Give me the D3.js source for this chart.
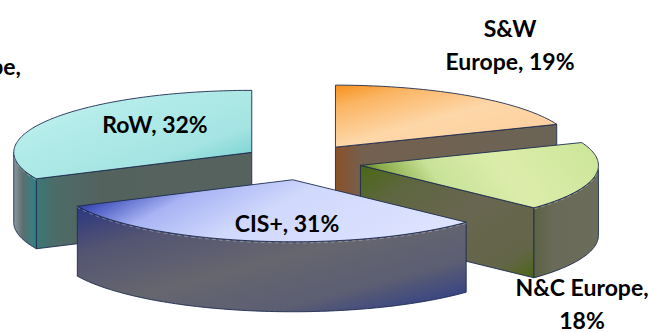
<!DOCTYPE html>
<html>
<head>
<meta charset="utf-8">
<script src="https://cdn.jsdelivr.net/npm/d3@7"></script>
<style>
  html, body { margin: 0; padding: 0; background: #fff; overflow: hidden; }
  svg text { font-family: Lato, "Open Sans", sans-serif; font-weight: 700; fill: #000; }
</style>
</head>
<body>
<svg id="chart" width="649" height="332"></svg>
<script>
// Market share by region (%), clockwise from 12 o'clock
const categories = ["S&W Europe", "N&C Europe", "CIS+", "RoW"];
const shares = [19, 18, 31, 32];
// number of words kept on the first label line (0 = single line)
const firstLineWords = [1, 2, 0, 0];

// ---- layout -------------------------------------------------------------
const W = 649, H = 332;
const cx = 302, cy = 162;      // pie centre (top face)
const rx = 238, ry = 62;       // ellipse radii of the tilted disc
const depth = 70;              // slab thickness
const explode = 0.25, explodeY = 0.29;

// label anchors: centre x, first baseline y
const labelAnchor = {
  "S&W Europe": [510, 37],
  "N&C Europe": [582, 296],
  "CIS+": [287, 232],
  "RoW": [155, 133]
};
const lineGap = 33;

// face styling per slice
const faceStyle = {
  "S&W Europe": {
    top:   { dir: [0, 0, 1, 1], stops: [[0, "#f6901a"], [0.18, "#fbb462"], [0.5, "#fdd7a8"], [0.85, "#fdd0a0"], [1, "#f9b676"]] },
    wall:  { dir: [0, 0, 1, 0], stops: [[0, "#8a5228"], [0.12, "#74604f"], [1, "#6a6456"]] },
    outer: { dir: [0, 0, 1, 0], stops: [[0, "#6a6456"], [1, "#6a6456"]] }
  },
  "N&C Europe": {
    top:   { dir: [0, 0.5, 1, 0.3], stops: [[0, "#4a6814"], [0.1, "#8aab48"], [0.3, "#c8e298"], [0.6, "#dcedab"], [1, "#cde69a"]] },
    wall:  { dir: [0, 0, 1, 1], stops: [[0, "#4a6814"], [0.22, "#5e6640"], [0.5, "#686650"], [0.85, "#636548"], [1, "#4d6614"]] },
    outer: { dir: [0, 0, 1, 0], stops: [[0, "#5c6244"], [0.3, "#6a6a58"], [1, "#6c6c5c"]] }
  },
  "CIS+": {
    top:   { dir: [0, 0.3, 1, 0.6], stops: [[0, "#1c2a78"], [0.08, "#4858c0"], [0.25, "#a8b4f4"], [0.5, "#d0d8fc"], [1, "#dde3ff"]] },
    wall:  { dir: [0, 0, 1, 0], stops: [[0, "#4a4c7a"], [1, "#4a4c7a"]] },
    outer: { dir: [0, 0, 1, 1], stops: [[0, "#2a3680"], [0.22, "#535472"], [0.5, "#66666f"], [0.75, "#5c5e72"], [1, "#26388c"]] }
  },
  "RoW": {
    top:   { dir: [0, 0, 1, 1], stops: [[0, "#d6f6f6"], [0.3, "#b4ecea"], [0.7, "#a4e4e2"], [1, "#60c8c8"]] },
    wall:  { dir: [0, 0, 1, 0], stops: [[0, "#3a7878"], [0.08, "#4c6c68"], [0.3, "#54625e"], [1, "#56625e"]] },
    outer: { dir: [0, 0, 1, 0], stops: [[0, "#8a9aa0"], [0.4, "#5c6e70"], [0.85, "#3a7f80"], [1, "#347a7c"]] }
  }
};

const svg = d3.select("#chart");
const defs = svg.append("defs");

function gradient(id, spec) {
  const g = defs.append("linearGradient").attr("id", id)
    .attr("x1", spec.dir[0]).attr("y1", spec.dir[1])
    .attr("x2", spec.dir[2]).attr("y2", spec.dir[3]);
  spec.stops.forEach(([o, c]) => g.append("stop").attr("offset", o).attr("stop-color", c));
  return `url(#${id})`;
}

const data = categories.map((c, i) => ({ name: c, value: shares[i] }));
const arcs = d3.pie().sort(null).value(d => d.value)(data);

const line = d3.line();
const closed = d3.line().curve(d3.curveLinearClosed);
const STROKE = "#1d2b4f";

function geom(a) {
  const m = (a.startAngle + a.endAngle) / 2;
  const ax = cx + explode * rx * Math.sin(m);
  const ay = cy - explodeY * ry * Math.cos(m);
  const rim = (t, dz = 0) => [ax + rx * Math.sin(t), ay - ry * Math.cos(t) + dz];
  return { m, ax, ay, rim };
}

function sweep(t0, t1, g, dz = 0) {
  const n = Math.max(2, Math.ceil(Math.abs(t1 - t0) / 0.02));
  return d3.range(n + 1).map(i => g.rim(t0 + (t1 - t0) * i / n, dz));
}

// painter's order: slices whose middle faces further back are drawn first
const order = arcs.slice().sort((a, b) =>
  (-Math.cos((a.startAngle + a.endAngle) / 2)) - (-Math.cos((b.startAngle + b.endAngle) / 2)));

order.forEach((a, k) => {
  const g = geom(a);
  const st = faceStyle[a.data.name];
  const grp = svg.append("g").attr("class", "slice");
  const s = a.startAngle, e = a.endAngle;
  const apex = [g.ax, g.ay], apexB = [g.ax, g.ay + depth];

  // radial cut faces
  if (Math.sin(s) < -1e-6) {
    grp.append("path")
      .attr("d", closed([apex, g.rim(s), g.rim(s, depth), apexB]))
      .attr("fill", gradient(`w0-${k}`, st.wall))
      .attr("stroke", STROKE).attr("stroke-width", 0.9).attr("stroke-linejoin", "round");
  }
  if (Math.sin(e) > 1e-6) {
    grp.append("path")
      .attr("d", closed([apex, g.rim(e), g.rim(e, depth), apexB]))
      .attr("fill", gradient(`w1-${k}`, st.wall))
      .attr("stroke", STROKE).attr("stroke-width", 0.9).attr("stroke-linejoin", "round");
  }

  // curved outer face (front half only)
  const lo = Math.max(s, Math.PI / 2), hi = Math.min(e, 3 * Math.PI / 2);
  if (lo < hi) {
    const pts = sweep(lo, hi, g).concat(sweep(hi, lo, g, depth));
    grp.append("path")
      .attr("d", closed(pts))
      .attr("fill", gradient(`o-${k}`, st.outer))
      .attr("stroke", STROKE).attr("stroke-width", 0.9).attr("stroke-linejoin", "round");
  }

  // top face
  grp.append("path")
    .attr("d", closed([apex].concat(sweep(s, e, g))))
    .attr("fill", gradient(`t-${k}`, st.top))
    .attr("stroke", STROKE).attr("stroke-width", 0.9).attr("stroke-linejoin", "round");

  // soft highlight just under the front rim of the top face
  if (lo < hi) {
    grp.append("path")
      .attr("d", line(sweep(lo, hi, g, 1.2)))
      .attr("fill", "none").attr("stroke", "#ffffff").attr("stroke-opacity", 0.3)
      .attr("stroke-width", 1).attr("stroke-dasharray", "4 3");
  }
});

// data labels
arcs.forEach((a, i) => {
  const name = a.data.name;
  const words = `${name}, ${a.data.value}%`.split(" ");
  const n = firstLineWords[i];
  const lines = n > 0 ? [words.slice(0, n).join(" "), words.slice(n).join(" ")] : [words.join(" ")];
  const [lx, ly] = labelAnchor[name];
  const t = svg.append("text").attr("text-anchor", "middle").attr("font-size", 23);
  lines.forEach((l, j) => t.append("tspan").attr("x", lx).attr("y", ly + j * lineGap).text(l));
});

// label of a region slice that lies beyond the left edge of the view
svg.append("text").attr("text-anchor", "end").attr("font-size", 23)
  .attr("x", 21).attr("y", 75).text("Europe,");
</script>
</body>
</html>
